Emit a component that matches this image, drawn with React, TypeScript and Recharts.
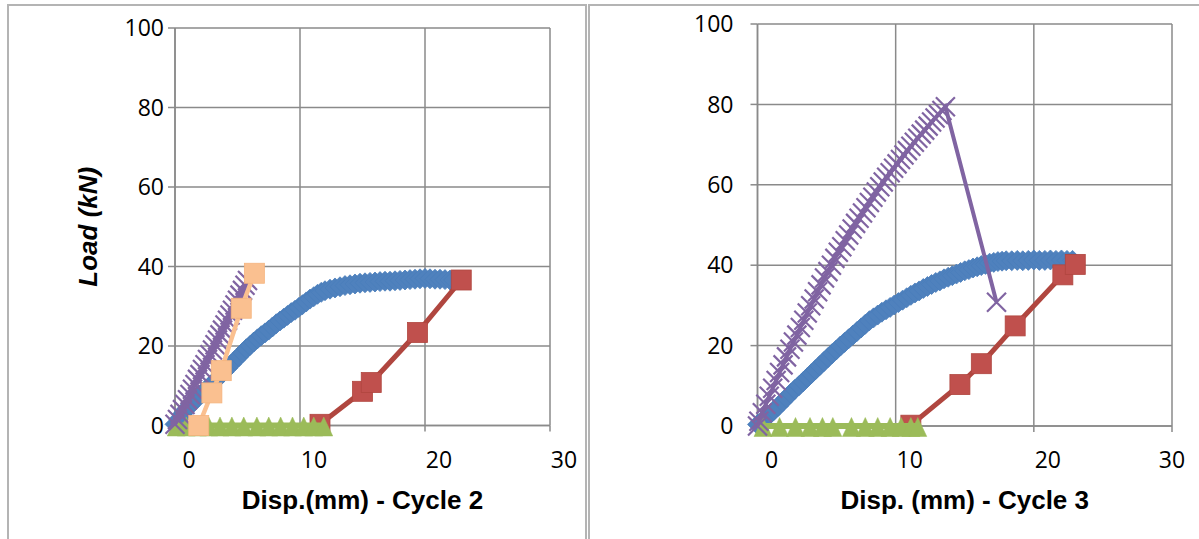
import React from 'react';
import { ScatterChart, Scatter, XAxis, YAxis, CartesianGrid, Label } from 'recharts';

type Pair = [number, number];

// ---------- Cycle 2 (left panel) ----------
const cycle2Blue: Pair[] = [
  [0.0, 0.3], [0.3, 1.6], [0.6, 2.9], [0.9, 4.1], [1.2, 5.0], [1.5, 6.0], [1.8, 6.9], [2.1, 7.9],
  [2.4, 8.8], [2.7, 9.7], [3.0, 10.6], [3.3, 11.5], [3.6, 12.5], [3.9, 13.4], [4.2, 14.4], [4.5, 15.4],
  [4.8, 16.4], [5.1, 17.3], [5.4, 18.3], [5.7, 19.3], [6.0, 20.1], [6.3, 21.0], [6.6, 21.8], [6.9, 22.6],
  [7.2, 23.3], [7.5, 24.0], [7.8, 24.8], [8.1, 25.6], [8.4, 26.3], [8.7, 27.0], [9.0, 27.7], [9.3, 28.4],
  [9.6, 29.0], [9.9, 29.7], [10.2, 30.4], [10.5, 31.1], [10.8, 31.8], [11.1, 32.4], [11.4, 33.0], [11.7, 33.5],
  [12.0, 33.9], [12.4, 34.3], [12.8, 34.6], [13.2, 34.9], [13.6, 35.2], [14.0, 35.4], [14.4, 35.6], [14.8, 35.8],
  [15.2, 35.9], [15.6, 36.0], [16.0, 36.1], [16.4, 36.2], [16.8, 36.3], [17.2, 36.3], [17.6, 36.4], [18.0, 36.5],
  [18.4, 36.6], [18.8, 36.7], [19.2, 36.8], [19.6, 36.9], [20.0, 37.0], [20.4, 36.9], [20.8, 36.8], [21.2, 36.8],
  [21.6, 36.7], [22.0, 36.6], [22.3, 36.6],
];
const cycle2Red: Pair[] = [[11.6, 0.3], [15.0, 8.6], [15.7, 10.8], [19.4, 23.4], [22.9, 36.6]];
const cycle2Green: Pair[] = [
  [0.1, 0], [0.9, 0], [1.8, 0], [2.7, 0], [3.6, 0], [4.55, 0], [5.5, 0], [6.55, 0],
  [7.5, 0], [8.45, 0], [9.4, 0], [10.3, 0], [11.1, 0], [11.9, 0],
];
const cycle2Purple: Pair[] = [
  [0.0, 0.3], [0.2, 1.5], [0.4, 2.8], [0.6, 4.0], [0.8, 5.3], [1.0, 6.5], [1.2, 7.8], [1.4, 9.1],
  [1.6, 10.3], [1.8, 11.6], [2.0, 12.8], [2.2, 14.1], [2.4, 15.3], [2.6, 16.6], [2.8, 17.8], [3.0, 19.0],
  [3.2, 20.3], [3.4, 21.5], [3.6, 22.8], [3.8, 24.0], [4.0, 25.3], [4.2, 26.5], [4.4, 27.8], [4.6, 29.0],
  [4.8, 30.3], [5.0, 31.5], [5.2, 32.8], [5.4, 34.0], [5.6, 35.3], [5.8, 36.5],
];
const cycle2Orange: Pair[] = [[1.9, 0], [2.95, 8.2], [3.7, 13.8], [5.3, 29.5], [6.35, 38.3]];

// ---------- Cycle 3 (right panel) ----------
const cycle3Blue: Pair[] = [
  [0.0, 0.4], [0.3, 1.2], [0.6, 2.0], [0.9, 2.9], [1.2, 3.9], [1.5, 4.9], [1.8, 6.0], [2.1, 7.0],
  [2.4, 8.1], [2.7, 9.1], [3.0, 10.0], [3.3, 11.0], [3.6, 12.0], [3.9, 13.0], [4.2, 14.0], [4.5, 15.0],
  [4.8, 16.0], [5.1, 17.0], [5.4, 18.0], [5.7, 18.9], [6.0, 19.9], [6.3, 20.8], [6.6, 21.7], [6.9, 22.6],
  [7.2, 23.5], [7.5, 24.4], [7.8, 25.3], [8.1, 26.2], [8.4, 26.9], [8.7, 27.6], [9.0, 28.3], [9.3, 28.9],
  [9.6, 29.5], [9.9, 30.1], [10.2, 30.7], [10.5, 31.3], [10.8, 31.9], [11.1, 32.5], [11.4, 33.1], [11.7, 33.6],
  [12.0, 34.2], [12.3, 34.7], [12.6, 35.2], [12.9, 35.7], [13.2, 36.1], [13.5, 36.6], [13.8, 37.0], [14.1, 37.4],
  [14.4, 37.8], [14.7, 38.2], [15.0, 38.6], [15.3, 38.9], [15.6, 39.3], [15.9, 39.6], [16.2, 39.9], [16.5, 40.2],
  [16.8, 40.5], [17.1, 40.7], [17.4, 40.9], [17.7, 41.0], [18.0, 41.1], [18.4, 41.1], [18.8, 41.2], [19.2, 41.1],
  [19.6, 41.2], [20.0, 41.3], [20.4, 41.2], [20.8, 41.2], [21.2, 41.3], [21.6, 41.2], [22.0, 41.3], [22.4, 41.2],
  [22.8, 41.2],
];
const cycle3Red: Pair[] = [[11.1, 0.2], [14.65, 10.3], [16.2, 15.5], [18.65, 24.9], [22.1, 37.6], [23.0, 40.2]];
const cycle3Green: Pair[] = [
  [0.4, 0], [1.6, 0], [2.75, 0], [3.8, 0], [4.7, 0], [5.45, 0], [6.8, 0],
  [7.8, 0], [8.7, 0], [9.6, 0], [10.4, 0], [11.1, 0], [11.6, 0],
];
const cycle3Purple: Pair[] = [
  [0.0, 0.0], [0.1, 1.2], [0.35, 3.3], [0.6, 5.4], [0.85, 7.4], [1.1, 9.4], [1.35, 11.3], [1.6, 13.3],
  [1.85, 15.2], [2.1, 17.2], [2.35, 19.1], [2.6, 20.9], [2.85, 22.6], [3.1, 24.5], [3.35, 26.3], [3.6, 28.1],
  [3.85, 29.9], [4.1, 31.6], [4.35, 33.4], [4.6, 35.1], [4.85, 36.8], [5.1, 38.4], [5.35, 40.0], [5.6, 41.7],
  [5.85, 43.2], [6.1, 44.6], [6.35, 46.1], [6.6, 47.5], [6.85, 49.0], [7.1, 50.4], [7.35, 51.7], [7.6, 53.0],
  [7.85, 54.3], [8.1, 55.6], [8.35, 56.9], [8.6, 58.2], [8.85, 59.5], [9.1, 60.7], [9.35, 61.9], [9.6, 63.0],
  [9.85, 64.1], [10.1, 65.2], [10.35, 66.3], [10.6, 67.4], [10.85, 68.5], [11.1, 69.6], [11.35, 70.6], [11.6, 71.6],
  [11.85, 72.6], [12.1, 73.6], [12.35, 74.6], [12.6, 75.6], [12.85, 76.6], [13.1, 77.5], [13.35, 78.5], [13.6, 79.4],
  [17.3, 30.8],
];

const xTicks = [0, 10, 20, 30];
const yTicks = [0, 20, 40, 60, 80, 100];
const cycle2Title = 'Disp.(mm) - Cycle 2';
const cycle3Title = 'Disp. (mm) - Cycle 3';
const yTitle = 'Load (kN)';

const BLUE = '#4F81BD';
const BLUE_EDGE = '#4A7EBB';
const RED = '#C0504D';
const RED_EDGE = '#B0463F';
const GREEN = '#9BBB59';
const PURPLE = '#8064A2';
const ORANGE = '#FAC090';
const GRID = '#8a8a8a';

const toPts = (a: Pair[]) => a.map(([x, y]) => ({ x, y }));

const diamond = (p: any) => {
  const { cx, cy } = p;
  const r = 10;
  return <path d={`M${cx},${cy - r}L${cx + r},${cy}L${cx},${cy + r}L${cx - r},${cy}Z`} fill={BLUE} stroke={BLUE_EDGE} strokeWidth={0.8} />;
};
const square = (fill: string, stroke: string) => (p: any) => {
  const { cx, cy } = p;
  const h = 10;
  return <rect x={cx - h} y={cy - h} width={2 * h} height={2 * h} fill={fill} stroke={stroke} strokeWidth={0.8} />;
};
const triangle = (p: any) => {
  const { cx, cy } = p;
  const c = cy + 1.5;
  return <path d={`M${cx},${c - 10}L${cx + 9},${c + 9}L${cx - 9},${c + 9}Z`} fill={GREEN} stroke={GREEN} strokeWidth={0.5} />;
};
const xMark = (p: any) => {
  const { cx, cy } = p;
  const r = 9.5;
  return (
    <path d={`M${cx - r},${cy - r}L${cx + r},${cy + r}M${cx - r},${cy + r}L${cx + r},${cy - r}`} stroke={PURPLE} strokeWidth={2.2} fill="none" />
  );
};

const tickFont = { fontFamily: "'Open Sans', sans-serif", fontSize: 23, fill: '#000' };

type PanelProps = {
  left: number;
  width: number;
  top: number;
  right: number;
  yAxisWidth: number;
  xAxisHeight: number;
  yTickMargin: number;
  labelShift: (v: number) => number;
  title: string;
  showYTitle: boolean;
  blue: Pair[];
  red: Pair[];
  green: Pair[];
  purple: Pair[];
  orange?: Pair[];
};

const Panel = (pp: PanelProps) => {
  const XTick = (props: any) => {
    const v = props.payload.value;
    return (
      <text x={props.x + pp.labelShift(v)} y={props.y} dy="0.71em" textAnchor="middle" {...tickFont}>
        {v}
      </text>
    );
  };
  return (
    <div style={{ position: 'absolute', left: pp.left, top: 0 }}>
      <ScatterChart width={pp.width} height={539} margin={{ top: pp.top, right: pp.right, bottom: 0, left: 0 }}>
        <CartesianGrid stroke={GRID} strokeWidth={1.5} />
        <XAxis
          type="number"
          dataKey="x"
          domain={[0, 30]}
          ticks={xTicks}
          height={pp.xAxisHeight}
          tickSize={6}
          tickMargin={20}
          stroke={GRID}
          strokeWidth={1.5}
          tick={XTick}
          interval={0}
        >
          <Label
            content={(lp: any) => {
              const vb = lp.viewBox;
              return (
                <text
                  x={vb.x + vb.width / 2}
                  y={vb.y + 83}
                  textAnchor="middle"
                  fontFamily="'Liberation Sans', Arial, sans-serif"
                  fontWeight="bold"
                  fontSize={26}
                  fill="#000"
                >
                  {pp.title}
                </text>
              );
            }}
          />
        </XAxis>
        <YAxis
          type="number"
          dataKey="y"
          domain={[0, 100]}
          ticks={yTicks}
          width={pp.yAxisWidth}
          tickSize={7}
          tickMargin={pp.yTickMargin}
          stroke={GRID}
          strokeWidth={1.5}
          tick={tickFont}
          interval={0}
        >
          {pp.showYTitle ? (
            <Label
              content={(lp: any) => {
                const vb = lp.viewBox;
                const cy = vb.y + vb.height / 2;
                return (
                  <text
                    x={97}
                    y={cy}
                    transform={`rotate(-90, 97, ${cy})`}
                    textAnchor="middle"
                    fontFamily="'Liberation Sans', Arial, sans-serif"
                    fontWeight="bold"
                    fontStyle="italic"
                    fontSize={26}
                    fill="#000"
                  >
                    {yTitle}
                  </text>
                );
              }}
            />
          ) : null}
        </YAxis>
        <Scatter data={toPts(pp.blue)} fill={BLUE} shape={diamond} line={{ stroke: BLUE_EDGE, strokeWidth: 3 }} lineType="joint" isAnimationActive={false} />
        <Scatter data={toPts(pp.red)} fill={RED} shape={square(RED, RED_EDGE)} line={{ stroke: RED_EDGE, strokeWidth: 5 }} lineType="joint" isAnimationActive={false} />
        <Scatter data={toPts(pp.green)} fill={GREEN} shape={triangle} line={{ stroke: GREEN, strokeWidth: 6 }} lineType="joint" isAnimationActive={false} />
        <Scatter data={toPts(pp.purple)} fill={PURPLE} shape={xMark} line={{ stroke: PURPLE, strokeWidth: 4 }} lineType="joint" isAnimationActive={false} />
        {pp.orange ? (
          <Scatter data={toPts(pp.orange)} fill={ORANGE} shape={square(ORANGE, '#F5B47E')} line={{ stroke: ORANGE, strokeWidth: 4.5 }} lineType="joint" isAnimationActive={false} />
        ) : null}
      </ScatterChart>
    </div>
  );
};

const borderColor = '#b4b4b4';

export default function App() {
  return (
    <div style={{ position: 'absolute', left: 0, top: 0, width: 1199, height: 539, background: '#fff', overflow: 'hidden' }}>
      <div style={{ position: 'absolute', left: 7, top: 4, width: 576, height: 540, borderLeft: `2px solid ${borderColor}`, borderTop: `2px solid ${borderColor}`, borderRight: `2px solid ${borderColor}` }} />
      <div style={{ position: 'absolute', left: 588, top: 4, width: 620, height: 540, borderLeft: `2px solid ${borderColor}`, borderTop: `2px solid ${borderColor}` }} />
      <Panel
        left={0}
        width={600}
        top={28}
        right={50}
        yAxisWidth={175}
        xAxisHeight={113.5}
        yTickMargin={4}
        labelShift={() => 14}
        title={cycle2Title}
        showYTitle={true}
        blue={cycle2Blue}
        red={cycle2Red}
        green={cycle2Green}
        purple={cycle2Purple}
        orange={cycle2Orange}
      />
      <Panel
        left={600}
        width={599}
        top={24}
        right={27}
        yAxisWidth={157.5}
        xAxisHeight={113}
        yTickMargin={17}
        labelShift={(v) => (v === 30 ? 0 : 14)}
        title={cycle3Title}
        showYTitle={false}
        blue={cycle3Blue}
        red={cycle3Red}
        green={cycle3Green}
        purple={cycle3Purple}
      />
    </div>
  );
}
